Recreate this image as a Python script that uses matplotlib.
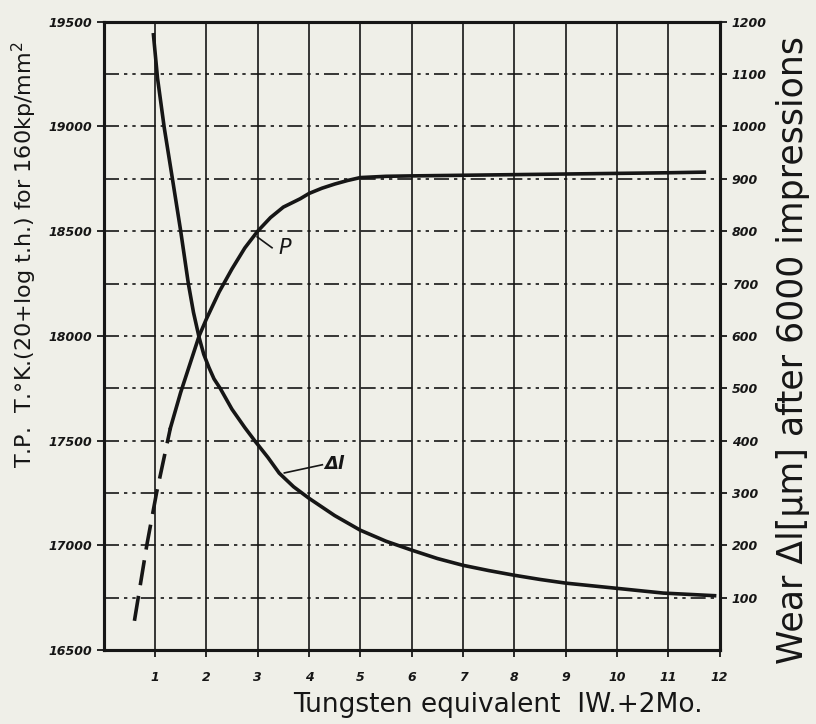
import matplotlib.pyplot as plt
from matplotlib.ticker import MultipleLocator

# x axis: tungsten equivalent (W + 2Mo)
tungsten_ticks = list(range(1, 13))
tp_ticks = [16500, 17000, 17500, 18000, 18500, 19000, 19500]
wear_ticks = [100, 200, 300, 400, 500, 600, 700, 800, 900, 1000, 1100, 1200]

# P curve (T.P., left axis) - extrapolated (dashed) part
p_dash_x = [0.6, 0.84, 1.03, 1.3]
p_dash_y = [16640, 17000, 17250, 17560]

# P curve - measured (solid) part
p_x = [1.3, 1.5, 1.7, 1.86, 2.0, 2.25, 2.5, 2.75, 3.0, 3.25, 3.5, 3.83,
       4.0, 4.25, 4.5, 4.75, 5.0, 5.5, 6.0, 7.0, 8.0, 9.0, 10.0, 11.0, 11.7]
p_y = [17560, 17730, 17880, 18000, 18080, 18210, 18320, 18420, 18500,
       18565, 18615, 18655, 18680, 18705, 18725, 18742, 18756, 18762,
       18764, 18767, 18770, 18773, 18776, 18779, 18782]

# wear curve (delta l, right axis)
wear_x = [0.97, 1.05, 1.18, 1.34, 1.5, 1.65, 1.75, 1.86, 1.95, 2.05, 2.15,
          2.27, 2.5, 2.75, 2.95, 3.2, 3.42, 3.7, 4.0, 4.5, 5.0, 5.5, 6.0,
          6.5, 7.0, 7.5, 8.0, 8.5, 9.0, 9.5, 10.0, 10.5, 10.9, 11.5, 11.9]
wear_y = [1175, 1092, 998, 900, 801, 700, 645, 597, 565, 540, 518,
          500, 460, 425, 399, 368, 338, 312, 290, 257, 229, 208, 191,
          175, 162, 152, 143, 135, 128, 123, 118, 113, 109, 106, 104]

paper = '#efefe8'
ink = '#161616'

fig = plt.figure(figsize=(8.16, 7.24), dpi=100, facecolor=paper)
ax = fig.add_axes([0.127, 0.102, 0.755, 0.868])
ax.set_facecolor(paper)
ax2 = ax.twinx()

ax.set_xlim(0, 12)
ax.set_ylim(16500, 19500)
ax2.set_ylim(0, 1200)

# grid
ax.yaxis.set_minor_locator(MultipleLocator(250))
ax.set_xticks(tungsten_ticks)
for y in range(16750, 19500, 250):
    ax.axhline(y, color=ink, lw=1.2, ls=(0, (9, 3, 2, 3, 2, 3)), zorder=1)
for x in tungsten_ticks[:-1]:
    ax.axvline(x, color=ink, lw=1.2, zorder=1)

# curves
ax.plot(p_dash_x, p_dash_y, color=ink, lw=2.6, ls=(0, (7, 3)), zorder=3)
ax.plot(p_x, p_y, color=ink, lw=2.6, zorder=3)
ax2.plot(wear_x, wear_y, color=ink, lw=2.6, zorder=3)

# curve labels
ax.plot([2.99, 3.28], [18473, 18421], color=ink, lw=1.2)
ax.text(3.4, 18420, 'P', fontsize=15, style='italic', color=ink,
        va='center', ha='left')
ax.plot([3.52, 4.26], [17346, 17385], color=ink, lw=1.2)
ax.text(4.3, 17390, 'Δl', fontsize=13, style='italic', color=ink,
        va='center', ha='left', fontweight='bold')

# ticks
ax.set_yticks(tp_ticks)
ax.set_yticklabels([str(t) for t in tp_ticks])
ax2.set_yticks(wear_ticks)
ax2.set_yticklabels([str(t) for t in wear_ticks])
ax.tick_params(axis='both', which='major', length=5, width=1.3,
               colors=ink, labelsize=9)
ax.tick_params(axis='y', which='minor', length=0)
ax.tick_params(axis='x', pad=10)
ax2.tick_params(axis='y', length=5, width=1.3, colors=ink, labelsize=9)
for lab in ax.get_xticklabels() + ax.get_yticklabels() + ax2.get_yticklabels():
    lab.set_fontstyle('italic')
    lab.set_fontweight('bold')

for a in (ax, ax2):
    for s in a.spines.values():
        s.set_linewidth(2.2)
        s.set_color(ink)

ax.set_xlabel('Tungsten equivalent  IW.+2Mo.', fontsize=19, color=ink)
ax.xaxis.set_label_coords(0.64, -0.066)
ax.set_ylabel('T.P.  T.°K.(20+log t.h.) for 160kp/mm$^2$', fontsize=16,
              color=ink)
ax.yaxis.set_label_coords(-0.105, 0.63)
ax2.set_ylabel('Wear Δl[μm] after 6000 impressions', fontsize=25,
               color=ink, rotation=90)
ax2.yaxis.set_label_coords(1.091, 0.478)

fig.savefig('out.png', dpi=100, facecolor=paper)
